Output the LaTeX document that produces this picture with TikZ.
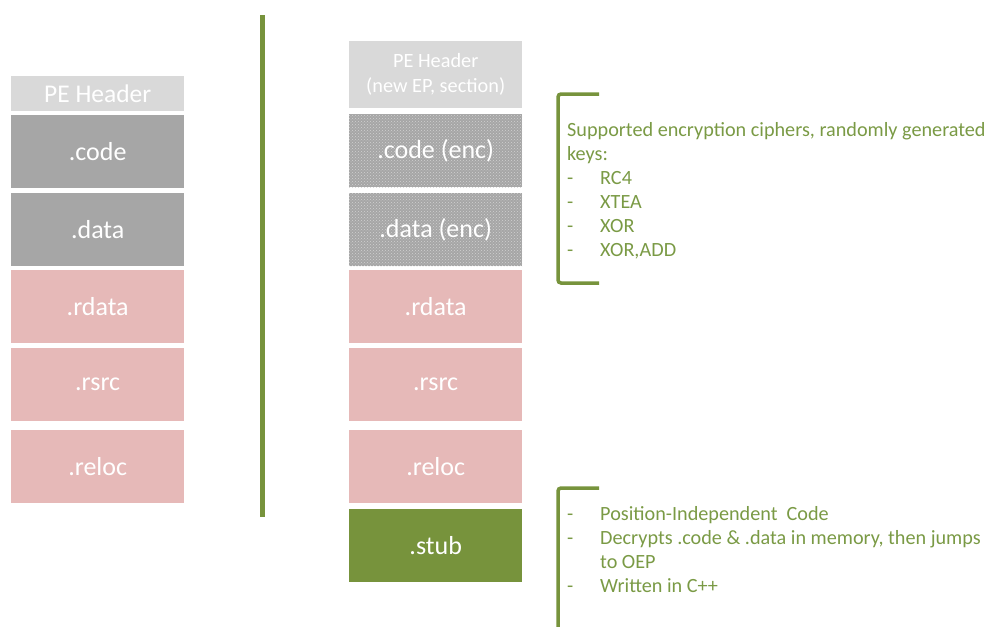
\documentclass[tikz,border=0pt]{standalone}
\usepackage{fontspec}
\setmainfont{Carlito}
\usetikzlibrary{patterns}
\definecolor{hdrgray}{HTML}{D9D9D9}
\definecolor{secgray}{HTML}{A6A6A6}
\definecolor{secpink}{HTML}{E6B9B8}
\definecolor{stubgreen}{HTML}{77933C}
\definecolor{notegreen}{HTML}{7A9A45}
\newcommand{\itm}{\makebox[33pt][l]{-}}

\begin{document}
\begin{tikzpicture}[x=1pt, y=-1pt,
    sect/.style={rectangle, anchor=north west, inner sep=0pt, minimum width=173pt, minimum height=73pt, text=white, font=\fontsize{26}{28}\selectfont},
    hdr/.style={sect, fill=hdrgray, font=\fontsize{25.5}{28}\selectfont},
    plain/.style={sect, fill=secgray},
    enc/.style={sect, fill=secgray, postaction={pattern=crosshatch dots, pattern color=black!18}},
    pink/.style={sect, fill=secpink},
    note/.style={anchor=north west, inner sep=0pt, align=left, text=notegreen, font=\fontsize{20.2}{24}\selectfont},
    brace/.style={draw=stubgreen, line width=3.5pt, rounded corners=3pt}]
  \useasboundingbox (0,0) rectangle (989,627);

  % original file
  \node[hdr, minimum height=35pt] (ohdr) at (11,76) {PE Header};
  \node[plain] (ocode) at (11,115) {.code};
  \node[plain] (odata) at (11,193) {.data};
  \node[pink] (ordata) at (11,270) {.rdata};
  \node[pink] (orsrc) at (11,348) {.rsrc};
  \node[pink] (oreloc) at (11,430) {.reloc};

  % separator
  \draw[stubgreen, line width=5pt] (262,15) -- (262,517);

  % packed file
  \node[hdr, minimum height=67pt, font=\fontsize{20.3}{25}\selectfont, align=center] (nhdr) at (349,41) {PE Header\\(new EP, section)};
  \node[enc] (ncode) at (349,114) {.code (enc)};
  \node[enc] (ndata) at (349,193) {.data (enc)};
  \node[pink] (nrdata) at (349,270) {.rdata};
  \node[pink] (nrsrc) at (349,348) {.rsrc};
  \node[pink] (nreloc) at (349,430) {.reloc};
  \node[sect, fill=stubgreen] (nstub) at (349,509) {.stub};

  % notes
  \draw[brace] (599,94) -- (558,94) -- (558,283) -- (599,283);
  \node[note] (ciphers) at (567,122) {Supported encryption ciphers, randomly generated\\keys:\\\itm RC4\\\itm XTEA\\\itm XOR\\\itm XOR,ADD};

  \draw[brace] (599,488) -- (558,488) -- (558,640);
  \node[note] (stubinfo) at (567,506) {\itm Position-Independent\ \ Code\\\itm Decrypts .code \& .data in memory, then jumps\\\makebox[33pt]{}to OEP\\\itm Written in C++};
\end{tikzpicture}
\end{document}
